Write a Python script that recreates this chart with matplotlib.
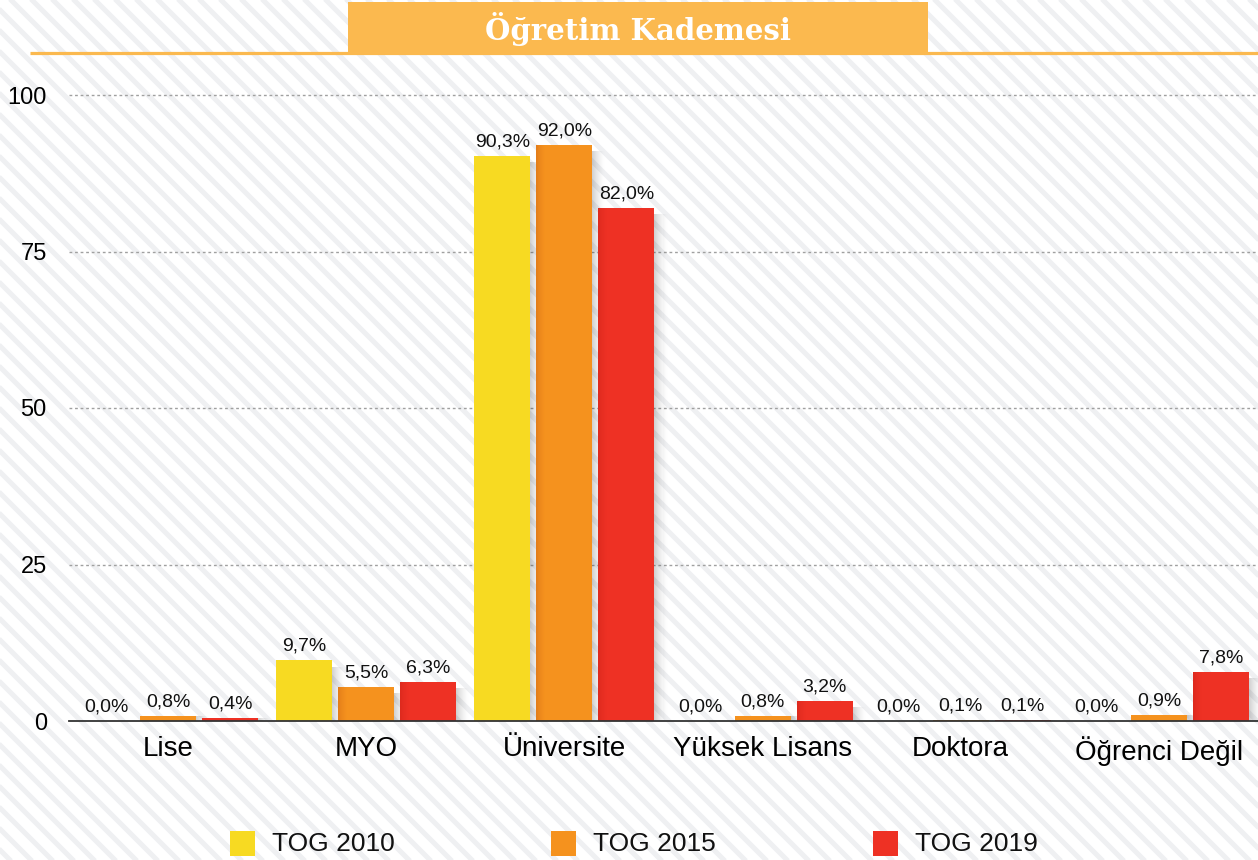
import matplotlib
matplotlib.use("Agg")
import matplotlib.pyplot as plt
from matplotlib.patches import Rectangle
import numpy as np

categories = ["Lise", "MYO", "Üniversite", "Yüksek Lisans", "Doktora", "Öğrenci Değil"]
series_names = ["TOG 2010", "TOG 2015", "TOG 2019"]
tog2010 = [0.0, 9.7, 90.3, 0.0, 0.0, 0.0]
tog2015 = [0.8, 5.5, 92.0, 0.8, 0.1, 0.9]
tog2019 = [0.4, 6.3, 82.0, 3.2, 0.1, 7.8]
yticks = [0, 25, 50, 75, 100]
title = "Öğretim Kademesi"

colors = ["#F7DA22", "#F5921E", "#EE3124"]
series = [tog2010, tog2015, tog2019]

W, H = 1258, 860
fig = plt.figure(figsize=(W / 100, H / 100), dpi=100)
plt.rcParams['font.family'] = ['Liberation Sans', 'DejaVu Sans']

# background stripes
bg = fig.add_axes([0, 0, 1, 1], zorder=0)
bg.set_xlim(0, W)
bg.set_ylim(H, 0)
bg.axis("off")
for x0 in np.arange(-H, W + 20, 21):
    bg.plot([x0, x0 + H + 20], [-10, H + 10], color="#eff0f2", lw=3.6,
            solid_capstyle="butt", zorder=0)

# title banner
bg.plot([30, W], [52.5, 52.5], color="#FBB94F", lw=2.3, solid_capstyle="butt", zorder=2)
bg.add_patch(Rectangle((348, 2), 580, 50, facecolor="#FBB94F", edgecolor="none", zorder=3))
bg.text(638, 29, title, color="white", fontsize=21, fontweight="bold",
        family="DejaVu Serif", ha="center", va="center", zorder=4)

# main axes
left, right = 69 / W, 1.0
bottom, top = 1 - 721 / H, 1 - 95 / H
ax = fig.add_axes([left, bottom, right - left, top - bottom], zorder=1)
ax.set_facecolor("none")
for s in ["top", "right", "left"]:
    ax.spines[s].set_visible(False)
ax.spines["bottom"].set_color("#333333")
ax.spines["bottom"].set_linewidth(1.3)
ax.spines["bottom"].set_zorder(5)
ax.set_xlim(-0.5, len(categories) - 0.5)
ax.set_ylim(0, 100)
ax.set_yticks(yticks)
ax.set_yticklabels([str(t) for t in yticks], fontsize=17)
ax.tick_params(axis="y", length=0, pad=16)
ax.set_xticks(range(len(categories)))
ax.set_xticklabels(categories, fontsize=20)
ax.tick_params(axis="x", length=0, pad=11)
for t in yticks[1:]:
    ax.axhline(t, color="#a0a0a0", lw=1.0, ls=(0, (2, 2)), zorder=0.5, clip_on=False)

px = 1 / 198.0
bw = 56 * px
pitch = 62 * px
x = np.arange(len(categories))
for i, (vals, c) in enumerate(zip(series, colors)):
    xs = x + (i - 1) * pitch
    # shadows
    for xc, v in zip(xs, vals):
        if v <= 0:
            continue
        xr = xc + bw / 2
        n = 14
        h = v - 1.0 if v > 3 else v
        for k in range(n):
            a = 0.2 * (1 - k / n) ** 1.6
            ax.add_patch(Rectangle((xr + (k - 1) * px, 0), px, h,
                                   facecolor="black", alpha=a, edgecolor="none", zorder=1))
    ax.bar(xs, vals, width=bw, color=c, zorder=2, edgecolor="none")
    if i > 0:
        for xc, v in zip(xs, vals):
            if v <= 1:
                continue
            xl = xc - bw / 2
            n = 9
            for k in range(n):
                a = 0.14 * (1 - k / n) ** 1.5
                ax.add_patch(Rectangle((xl + k * px, 0), px, v, facecolor="#7a0000",
                                       alpha=a, edgecolor="none", zorder=2.5))
    for xc, v in zip(xs, vals):
        ax.annotate(f"{v:.1f}%".replace(".", ","), (xc, v), xytext=(0, 4),
                    textcoords="offset points", ha="center", va="bottom",
                    fontsize=14, color="#111111", zorder=4)

# legend
leg_x = [230, 551, 873]
for lx, name, c in zip(leg_x, series_names, colors):
    bg.add_patch(Rectangle((lx, 831), 25, 25, facecolor=c, edgecolor="none", zorder=3))
    bg.text(lx + 42, 844, name, fontsize=19, ha="left", va="center", color="#111111", zorder=4)

fig.savefig("out.png", dpi=100)
